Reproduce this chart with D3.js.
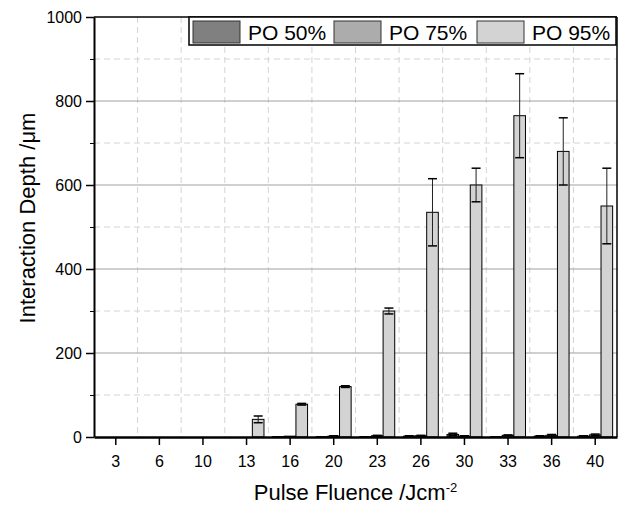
<!DOCTYPE html>
<html lang="en">

<head>
  <title>Interaction Depth</title>
  <script src="https://cdn.jsdelivr.net/npm/d3@7"></script>
  <style>
    body { margin: 0; background: #fff; }
    text { font-family: "Liberation Sans", Arial, sans-serif; fill: #000; }
  </style>
</head>

<body>
  <script>
    var fluence = ["3", "6", "10", "13", "16", "20", "23", "26", "30", "33", "36", "40"];
    var seriesNames = ["PO 50%", "PO 75%", "PO 95%"];
    var po50 = [0, 0, 0, 0, 1, 1, 1, 2, 6, 1, 2, 2];
    var po75 = [0, 0, 0, 0, 2, 2, 3, 3, 2, 4, 4, 5];
    var po95 = [0, 0, 0, 42, 78, 120, 300, 535, 600, 765, 680, 550];
    var err50 = [0, 0, 0, 0, 0, 0, 0, 1, 3, 0, 1, 1];
    var err75 = [0, 0, 0, 0, 0, 1, 1, 1, 1, 1, 2, 2];
    var err95 = [0, 0, 0, 8, 2, 2, 7, 80, 40, 100, 80, 90];
    var colors = ["#808080", "#acacac", "#d3d3d3"];

    var w = 620;
    var h = 507;
    var margin = { top: 17, left: 94, right: 3, bottom: 70 };
    var width = w - margin.left - margin.right;
    var height = h - margin.top - margin.bottom;

    var values = [po50, po75, po95];
    var errors = [err50, err75, err95];
    var data = [];
    fluence.forEach(function(f, i) {
      seriesNames.forEach(function(s, j) {
        data.push({ key: f, series: s, value: values[j][i], err: errors[j][i], color: colors[j] });
      });
    });

    var svg = d3.select("body").append("svg")
                .attr("width", w)
                .attr("height", h);
    var chart = svg.append("g")
                   .attr("transform", "translate(" + margin.left + "," + margin.top + ")");

    var x = d3.scaleBand()
              .domain(fluence)
              .range([0, width]);
    var xSub = d3.scaleBand()
                 .domain(seriesNames)
                 .range([x.bandwidth() * 0.1, x.bandwidth() * 0.9]);
    var y = d3.scaleLinear()
              .domain([0, 1000])
              .range([height, 0]);

    // grid: minor dashed, major solid, vertical dashed between categories
    chart.append("g").selectAll("line")
         .data(d3.range(100, 1000, 200))
         .enter().append("line")
         .attr("x1", 0).attr("x2", width)
         .attr("y1", function(d) { return y(d); })
         .attr("y2", function(d) { return y(d); })
         .attr("stroke", "#d4d4d4")
         .attr("stroke-dasharray", "6,4");
    chart.append("g").selectAll("line")
         .data(fluence.slice(1))
         .enter().append("line")
         .attr("x1", function(d) { return x(d); })
         .attr("x2", function(d) { return x(d); })
         .attr("y1", 0).attr("y2", height)
         .attr("stroke", "#d4d4d4")
         .attr("stroke-dasharray", "6,4");
    chart.append("g").selectAll("line")
         .data([200, 400, 600, 800])
         .enter().append("line")
         .attr("x1", 0).attr("x2", width)
         .attr("y1", function(d) { return y(d); })
         .attr("y2", function(d) { return y(d); })
         .attr("stroke", "#a0a0a0");

    // bars
    var groups = chart.selectAll(".bar")
                      .data(data)
                      .enter()
                      .append("g")
                      .classed("bar", true)
                      .attr("transform", function(d) {
                        return "translate(" + (x(d.key) + xSub(d.series)) + ",0)";
                      });
    groups.append("rect")
          .attr("x", 0)
          .attr("width", xSub.bandwidth())
          .attr("y", function(d) { return y(d.value); })
          .attr("height", function(d) { return height - y(d.value); })
          .attr("fill", function(d) { return d.color; })
          .attr("stroke", "#000")
          .attr("stroke-width", 1);

    // error bars
    var cap = 4.5;
    var mid = xSub.bandwidth() / 2;
    var eb = groups.filter(function(d) { return d.err > 0; });
    eb.append("line")
      .attr("x1", mid).attr("x2", mid)
      .attr("y1", function(d) { return y(d.value + d.err); })
      .attr("y2", function(d) { return y(Math.max(0, d.value - d.err)); })
      .attr("stroke", "#222");
    eb.append("line")
      .attr("x1", mid - cap).attr("x2", mid + cap)
      .attr("y1", function(d) { return y(d.value + d.err); })
      .attr("y2", function(d) { return y(d.value + d.err); })
      .attr("stroke", "#000").attr("stroke-width", 1.5);
    eb.append("line")
      .attr("x1", mid - cap).attr("x2", mid + cap)
      .attr("y1", function(d) { return y(Math.max(0, d.value - d.err)); })
      .attr("y2", function(d) { return y(Math.max(0, d.value - d.err)); })
      .attr("stroke", "#000").attr("stroke-width", 1.5);

    // frame top / right
    chart.append("line")
         .attr("x1", 0).attr("x2", width).attr("y1", 0).attr("y2", 0)
         .attr("stroke", "#000").attr("stroke-width", 1.5);
    chart.append("line")
         .attr("x1", width).attr("x2", width).attr("y1", 0).attr("y2", height)
         .attr("stroke", "#000").attr("stroke-width", 1.5);

    // axes
    var xAxis = d3.axisBottom(x).tickSize(8).tickSizeOuter(0);
    var yAxis = d3.axisLeft(y).tickValues(d3.range(0, 1001, 200)).tickFormat(d3.format("d"))
                  .tickSize(8).tickSizeOuter(0);
    var yMinor = d3.axisLeft(y).tickValues(d3.range(100, 1000, 200)).tickSize(4).tickFormat("");

    var gx = chart.append("g")
                  .attr("transform", "translate(0," + height + ")")
                  .call(xAxis);
    gx.select(".domain").attr("stroke-width", 2.5);
    gx.selectAll(".tick line").attr("stroke-width", 1.5);
    gx.selectAll(".tick text").attr("font-size", 16).attr("dy", "1.2em")
      .style("font-family", "Liberation Sans, Arial, sans-serif");

    chart.append("g").call(yMinor).select(".domain").remove();
    var gy = chart.append("g").call(yAxis);
    gy.select(".domain").attr("stroke-width", 2);
    gy.selectAll(".tick line").attr("stroke-width", 1.5);
    gy.selectAll(".tick text").attr("font-size", 16).attr("x", -12)
      .style("font-family", "Liberation Sans, Arial, sans-serif");

    // axis titles
    var xt = svg.append("text")
                .attr("x", margin.left + width / 2)
                .attr("y", 500)
                .attr("text-anchor", "middle")
                .attr("font-size", 22);
    xt.append("tspan").text("Pulse Fluence /Jcm");
    xt.append("tspan").attr("dy", -8).attr("font-size", 13).text("-2");

    svg.append("text")
       .attr("transform", "translate(35," + (margin.top + height / 2 - 9) + ") rotate(-90)")
       .attr("text-anchor", "middle")
       .attr("font-size", 22)
       .text("Interaction Depth /\u03bcm");

    // legend
    var legend = svg.append("g").attr("transform", "translate(189,17)");
    legend.append("rect")
          .attr("width", 427).attr("height", 28)
          .attr("fill", "#fff").attr("stroke", "#000").attr("stroke-width", 1.5);
    var offsets = [4, 145, 288];
    seriesNames.forEach(function(s, j) {
      var item = legend.append("g").attr("transform", "translate(" + offsets[j] + ",4)");
      item.append("rect")
          .attr("width", 47).attr("height", 22)
          .attr("fill", colors[j]).attr("stroke", "#333");
      item.append("text")
          .attr("x", 55).attr("y", 19)
          .attr("font-size", 21)
          .text(s);
    });
  </script>
</body>

</html>
